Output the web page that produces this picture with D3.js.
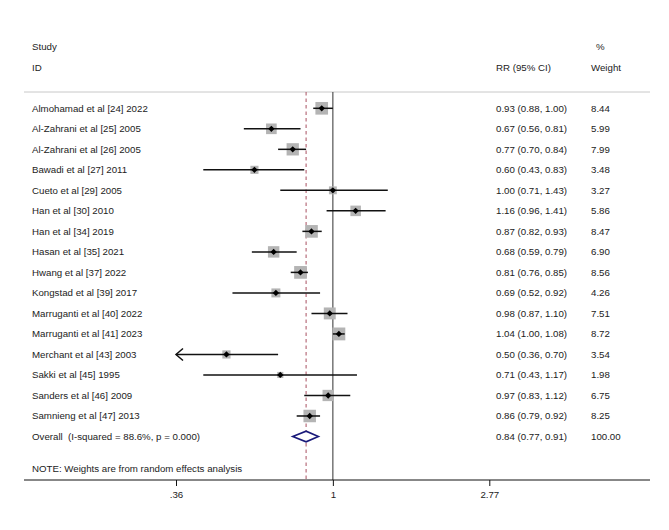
<!DOCTYPE html>
<html><head><meta charset="utf-8">
<script src="https://cdn.jsdelivr.net/npm/d3@7"></script>
<style>body{margin:0;background:#fff}svg{display:block}text{font-family:"Liberation Sans",Arial,sans-serif;font-size:9.7px;fill:#222;white-space:pre}</style>
</head><body><svg id="c" width="669" height="530"></svg>
<script>
const studies = ["Almohamad et al [24] 2022","Al-Zahrani et al [25] 2005","Al-Zahrani et al [26] 2005","Bawadi et al [27] 2011","Cueto et al [29] 2005","Han et al [30] 2010","Han et al [34] 2019","Hasan et al [35] 2021","Hwang et al [37] 2022","Kongstad et al [39] 2017","Marruganti et al [40] 2022","Marruganti et al [41] 2023","Merchant et al [43] 2003","Sakki et al [45] 1995","Sanders et al [46] 2009","Samnieng et al [47] 2013"];
const rr     = [0.93,0.67,0.77,0.60,1.00,1.16,0.87,0.68,0.81,0.69,0.98,1.04,0.50,0.71,0.97,0.86];
const lower  = [0.88,0.56,0.70,0.43,0.71,0.96,0.82,0.59,0.76,0.52,0.87,1.00,0.36,0.43,0.83,0.79];
const upper  = [1.00,0.81,0.84,0.83,1.43,1.41,0.93,0.79,0.85,0.92,1.10,1.08,0.70,1.17,1.12,0.92];
const weights= ["8.44","5.99","7.99","3.48","3.27","5.86","8.47","6.90","8.56","4.26","7.51","8.72","3.54","1.98","6.75","8.25"];
const overall = {label:"Overall  (I-squared = 88.6%, p = 0.000)", rr:0.84, lo:0.77, hi:0.91, w:"100.00"};
const tickVals = [0.36, 1, 2.77];
const tickLabels = [".36","1","2.77"];

const svg = d3.select("#c");
const x = d3.scaleLog().domain([0.36, 2.77]).range([176, 489.3]);
const y = d3.scaleLinear().domain([0, 16]).range([108.3, 436.5]);
const fmt = d3.format(".2f");
const yTop = 92, yAxis = 480;

// headers
svg.append("text").attr("x",32).attr("y",47).attr("dy","0.35em").text("Study");
svg.append("text").attr("x",32).attr("y",67.7).attr("dy","0.35em").text("ID");
svg.append("text").attr("x",496).attr("y",67.7).attr("dy","0.35em").text("RR (95% CI)");
svg.append("text").attr("x",596).attr("y",47).attr("dy","0.35em").text("%");
svg.append("text").attr("x",591).attr("y",67.7).attr("dy","0.35em").text("Weight");

// top rule
svg.append("line").attr("x1",24).attr("x2",650).attr("y1",yTop).attr("y2",yTop).attr("stroke","#c8c8c8").attr("stroke-width",1);

// reference lines
svg.append("line").attr("x1",x(1)).attr("x2",x(1)).attr("y1",yTop).attr("y2",yAxis).attr("stroke","#444").attr("stroke-width",1.1);
svg.append("line").attr("x1",x(overall.rr)).attr("x2",x(overall.rr)).attr("y1",yTop).attr("y2",yAxis)
  .attr("stroke","#b06070").attr("stroke-width",1.1).attr("stroke-dasharray","3.5,3");

const data = studies.map((s,i)=>({s, rr:rr[i], lo:lower[i], hi:upper[i], w:weights[i], i}));
const xmin = x.domain()[0];
const g = svg.append("g");
// boxes
g.selectAll("rect.box").data(data).join("rect").attr("class","box")
  .each(function(d){const side=4.35*Math.sqrt(+d.w);
    d3.select(this).attr("x",x(d.rr)-side/2).attr("y",y(d.i)-side/2).attr("width",side).attr("height",side);})
  .attr("fill","#b4b4b4");
// CI lines
g.selectAll("line.ci").data(data).join("line").attr("class","ci")
  .attr("x1",d=>x(Math.max(d.lo,xmin))).attr("x2",d=>x(d.hi))
  .attr("y1",d=>y(d.i)).attr("y2",d=>y(d.i)).attr("stroke","#111").attr("stroke-width",1.5);
// arrows for truncated CIs
g.selectAll("path.arr").data(data.filter(d=>d.lo<=xmin)).join("path").attr("class","arr")
  .attr("d",d=>{const X=x(xmin), Y=y(d.i); return `M${X+7},${Y-6}L${X},${Y}L${X+7},${Y+6}`;})
  .attr("fill","none").attr("stroke","#111").attr("stroke-width",1.5);
// point markers
g.selectAll("path.pt").data(data).join("path").attr("class","pt")
  .attr("transform",d=>`translate(${x(d.rr)},${y(d.i)}) rotate(45)`)
  .attr("d",d3.symbol(d3.symbolSquare,20)).attr("fill","#000");

// overall diamond
const yo = y(16);
svg.append("path").attr("d",`M${x(overall.lo)},${yo}L${x(overall.rr)},${yo-5.3}L${x(overall.hi)},${yo}L${x(overall.rr)},${yo+5.3}Z`)
  .attr("fill","#fff").attr("stroke","#1a1a7a").attr("stroke-width",1.6);

// labels
g.selectAll("text.lab").data(data).join("text").attr("class","lab")
  .attr("x",32).attr("y",d=>y(d.i)).attr("dy","0.35em").text(d=>d.s);
g.selectAll("text.ci").data(data).join("text").attr("class","ci")
  .attr("x",496).attr("y",d=>y(d.i)).attr("dy","0.35em").text(d=>`${fmt(d.rr)} (${fmt(d.lo)}, ${fmt(d.hi)})`);
g.selectAll("text.w").data(data).join("text").attr("class","w")
  .attr("x",591).attr("y",d=>y(d.i)).attr("dy","0.35em").text(d=>d.w);
svg.append("text").attr("x",32).attr("y",yo).attr("dy","0.35em").text(overall.label);
svg.append("text").attr("x",496).attr("y",yo).attr("dy","0.35em").text(`${fmt(overall.rr)} (${fmt(overall.lo)}, ${fmt(overall.hi)})`);
svg.append("text").attr("x",591).attr("y",yo).attr("dy","0.35em").text(overall.w);
svg.append("text").attr("x",32).attr("y",468.3).attr("dy","0.35em").text("NOTE: Weights are from random effects analysis");

// axis
svg.append("line").attr("x1",24).attr("x2",650).attr("y1",yAxis).attr("y2",yAxis).attr("stroke","#111").attr("stroke-width",1);
const ax = svg.append("g").attr("transform",`translate(0,${yAxis})`)
  .call(d3.axisBottom(x).tickValues(tickVals).tickFormat((d,i)=>tickLabels[i]).tickSize(6).tickPadding(5));
ax.select(".domain").remove();
ax.selectAll("line").attr("stroke","#111");
ax.selectAll("text").attr("fill","#222").style("font-size","9.7px").style("font-family","'Liberation Sans',Arial,sans-serif");
</script></body></html>
